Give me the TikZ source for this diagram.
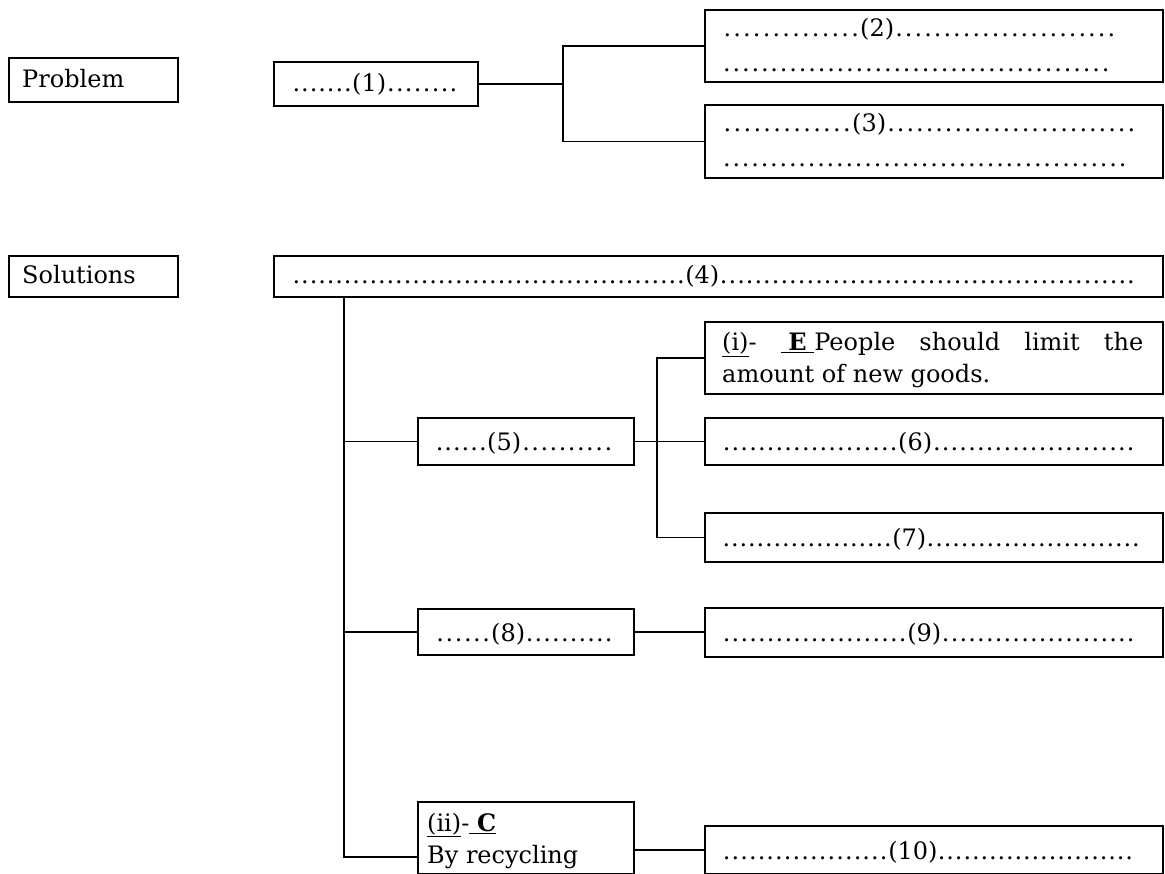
\documentclass[tikz,border=0pt]{standalone}
\usepackage{fontspec}
\setmainfont{DejaVu Serif}
% a run of evenly spaced dots: #1 = total width, #2 = dot pitch (both in pt)
\newcommand\dotrun[2]{\hbox to #1pt{\xleaders\hbox to #2pt{\hss.\hss}\hfill}}
\begin{document}
\begin{tikzpicture}[x=1pt,y=-1pt,
  box/.style={draw, line width=1.8pt, rectangle, inner sep=0pt, anchor=north west},
  wire/.style={line width=1.6pt},
  txt/.style={inner sep=0pt, anchor=base west, font=\fontsize{24}{32}\selectfont}]
\useasboundingbox (0,0) rectangle (1165,874);

% ---- boxes ----
\node[box, minimum width=169pt, minimum height=44pt] (prob) at (8,57) {};
\node[box, minimum width=204pt, minimum height=44pt] (b1) at (273,61) {};
\node[box, minimum width=458pt, minimum height=72pt] (b2) at (704,9) {};
\node[box, minimum width=458pt, minimum height=73pt] (b3) at (704,104) {};
\node[box, minimum width=169pt, minimum height=41pt] (sol) at (8,255) {};
\node[box, minimum width=889pt, minimum height=41pt] (b4) at (273,255) {};
\node[box, minimum width=458pt, minimum height=72pt] (bi) at (704,321) {};
\node[box, minimum width=216pt, minimum height=47pt] (b5) at (417,417) {};
\node[box, minimum width=458pt, minimum height=47pt] (b6) at (704,417) {};
\node[box, minimum width=458pt, minimum height=49pt] (b7) at (704,512) {};
\node[box, minimum width=216pt, minimum height=46pt] (b8) at (417,608) {};
\node[box, minimum width=458pt, minimum height=49pt] (b9) at (704,607) {};
\node[box, minimum width=216pt, minimum height=72pt] (bii) at (417,801) {};
\node[box, minimum width=458pt, minimum height=48pt] (b10) at (704,825) {};

% ---- texts ----
\node[txt] (tprob) at (22,88) {Problem};
\node[txt] (t1) at (292,92) {\dotrun{60}{8.5}(1)\dotrun{72}{8.5}};
\node[txt] (t2a) at (722,37) {\dotrun{138}{9.4}(2)\dotrun{222}{9.4}};
\node[txt] (t2b) at (722,72) {\dotrun{388}{9.4}};
\node[txt] (t3a) at (722,132) {\dotrun{130}{9.4}(3)\dotrun{250}{9.4}};
\node[txt] (t3b) at (722,167) {\dotrun{405}{9.4}};
\node[txt] (tsol) at (22,284) {Solutions};
\node[txt] (t4) at (292,284) {\dotrun{393}{8.5}(4)\dotrun{416}{8.5}};
\node[txt] (ti1) at (722,351) {\makebox[421pt][s]{\underline{(i)}-\ \underline{\ \textbf{E}\ }People should limit the}};
\node[txt] (ti2) at (722,383) {amount of new goods.};
\node[txt] (t5) at (435,450) {\dotrun{52}{8.5}(5)\dotrun{92}{8.5}};
\node[txt] (t6) at (722,450) {\dotrun{176}{8.5}(6)\dotrun{203}{8.5}};
\node[txt] (t7) at (722,546) {\dotrun{170}{8.5}(7)\dotrun{214}{8.5}};
\node[txt] (t8) at (435,641) {\dotrun{56}{8.5}(8)\dotrun{88}{8.5}};
\node[txt] (t9) at (722,641) {\dotrun{185}{8.5}(9)\dotrun{194}{8.5}};
\node[txt] (tii1) at (427,831) {\underline{(ii)}-\underline{\ \textbf{C}}};
\node[txt] (tii2) at (427,863) {By recycling};
\node[txt] (t10) at (722,859) {\dotrun{166}{8.5}(10)\dotrun{196}{8.5}};

% ---- connectors ----
\coordinate (k1) at (563,0);
\coordinate (k2) at (344,0);
\coordinate (k3) at (657,0);
\coordinate (tb) at ([yshift=-19pt]bii.west);
\draw[wire] (b1.east) -- (b1.east -| k1);
\draw[wire] (b2.west) -- (b2.west -| k1) -- (b3.west -| k1) -- (b3.west);
\draw[wire] (b4.south -| k2) |- (tb);
\draw[wire] (b5.west -| k2) -- (b5.west);
\draw[wire] (b8.west -| k2) -- (b8.west);
\draw[wire] (b5.east) -- (b5.east -| b6.west);
\draw[wire] (bi.west) -- (bi.west -| k3) -- (b7.west -| k3) -- (b7.west);
\draw[wire] (b8.east) -- (b8.east -| b9.west);
\draw[wire] (b10.west -| bii.east) -- (b10.west);
\end{tikzpicture}
\end{document}
